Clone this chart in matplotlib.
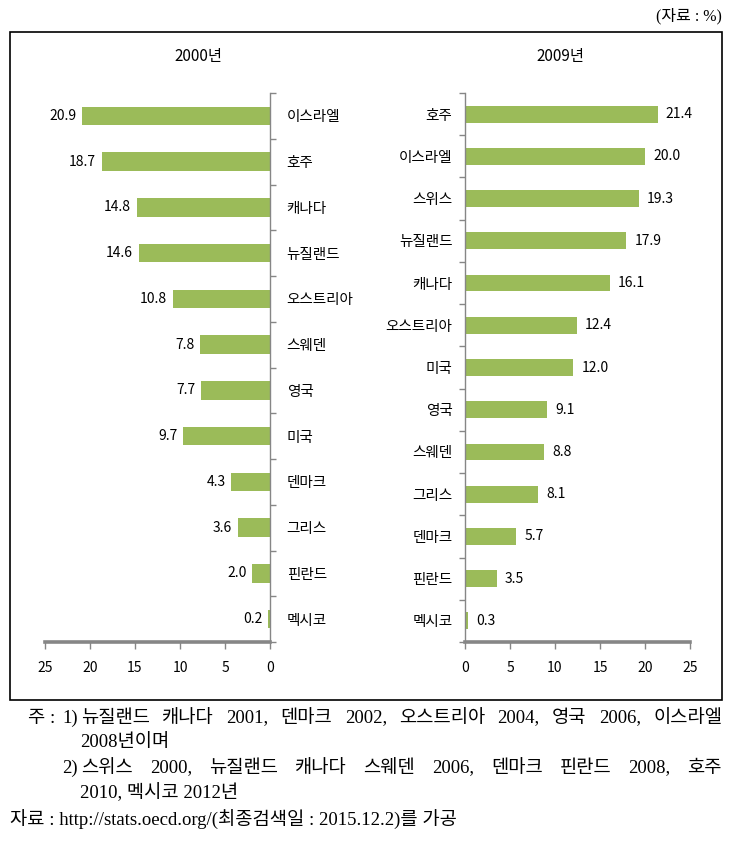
import numpy as np
import matplotlib.pyplot as plt
from matplotlib.patches import Rectangle
from matplotlib.ticker import FixedLocator

plt.rcParams['font.family'] = ['Noto Sans CJK KR', 'DejaVu Sans']

# 2000년 (left panel)
countries_2000 = ['이스라엘', '호주', '캐나다', '뉴질랜드', '오스트리아', '스웨덴',
                  '영국', '미국', '덴마크', '그리스', '핀란드', '멕시코']
values_2000 = [20.9, 18.7, 14.8, 14.6, 10.8, 7.8, 7.7, 9.7, 4.3, 3.6, 2.0, 0.2]

# 2009년 (right panel)
countries_2009 = ['호주', '이스라엘', '스위스', '뉴질랜드', '캐나다', '오스트리아', '미국',
                  '영국', '스웨덴', '그리스', '덴마크', '핀란드', '멕시코']
values_2009 = [21.4, 20.0, 19.3, 17.9, 16.1, 12.4, 12.0, 9.1, 8.8, 8.1, 5.7, 3.5, 0.3]

xticks = [0, 5, 10, 15, 20, 25]

# (x start, y, text, justify to right edge?)
notes = [
    (28, 718, '주 :', False),
    (62, 718, '1)', False),
    (81, 718, '뉴질랜드 캐나다 2001, 덴마크 2002, 오스트리아 2004, 영국 2006, 이스라엘', True),
    (80, 743, '2008년이며', False),
    (62, 768, '2)', False),
    (81, 768, '스위스 2000, 뉴질랜드 캐나다 스웨덴 2006, 덴마크 핀란드 2008, 호주', True),
    (80, 793, '2010, 멕시코 2012년', False),
    (10, 820, '자료 : http://stats.oecd.org/(최종검색일 : 2015.12.2)를 가공', False),
]

bar_color = '#9BBB59'
axis_gray = '#868686'
num_font = ['Liberation Sans Narrow', 'Noto Sans CJK KR', 'DejaVu Sans']
note_font = ['Liberation Serif', 'Noto Sans CJK KR']
W, H = 729, 850

fig = plt.figure(figsize=(W / 100, H / 100), dpi=100)

def fx(px):
    return px / W

def fy(py):
    return 1 - py / H

ax1 = fig.add_axes([fx(45), fy(642), fx(225), (642 - 93) / H])
ax2 = fig.add_axes([fx(465), fy(642), fx(225), (642 - 93) / H])

def style(ax, labels, side):
    n = len(labels)
    ax.set_ylim(n - 0.5, -0.5)
    ax.set_xlim(0, 25)
    for s in ax.spines.values():
        s.set_visible(False)
    ax.spines['bottom'].set_visible(True)
    ax.spines['bottom'].set_color(axis_gray)
    ax.spines['bottom'].set_linewidth(2.6)
    ax.spines[side].set_visible(True)
    ax.spines[side].set_color(axis_gray)
    ax.spines[side].set_linewidth(1.0)
    ax.set_xticks(xticks)
    ax.set_xticklabels([str(t) for t in xticks], family=num_font, fontsize=10)
    ax.tick_params(axis='x', direction='out', length=5, width=1, color=axis_gray, pad=9)
    ax.set_yticks(np.arange(n))
    ax.set_yticklabels(labels, fontsize=10.5)
    ax.yaxis.set_minor_locator(FixedLocator(np.arange(n + 1) - 0.5))
    ax.tick_params(axis='y', which='major', length=0)
    ax.tick_params(axis='y', which='minor', length=4, width=1, color=axis_gray, direction='out')
    ax.set_facecolor('none')

# left: reversed axis, labels on the right
ax1.barh(np.arange(len(values_2000)), values_2000, height=0.4, color=bar_color)
style(ax1, countries_2000, 'right')
ax1.set_xlim(25, 0)
ax1.yaxis.tick_right()
ax1.tick_params(axis='y', which='major', pad=12)
for i, v in enumerate(values_2000):
    ax1.annotate(f'{v:.1f}', (v, i), xytext=(-4, 0), textcoords='offset points',
                 ha='right', va='center', fontsize=10, family=num_font)

# right: labels on the left
ax2.barh(np.arange(len(values_2009)), values_2009, height=0.4, color=bar_color)
style(ax2, countries_2009, 'left')
ax2.yaxis.tick_left()
ax2.tick_params(axis='y', which='major', pad=9)
for i, v in enumerate(values_2009):
    ax2.annotate(f'{v:.1f}', (v, i), xytext=(6, 0), textcoords='offset points',
                 ha='left', va='center', fontsize=10, family=num_font)

fig.text(fx(198), fy(57), '2000년', ha='center', va='center', fontsize=11)
fig.text(fx(560), fy(57), '2009년', ha='center', va='center', fontsize=11)
fig.text(fx(722), fy(16), '(자료 : %)', ha='right', va='center', fontsize=11.5,
         family=note_font)

fig.patches.append(Rectangle((fx(10), fy(700)), fx(712), (700 - 32) / H,
                             transform=fig.transFigure, fill=False,
                             edgecolor='black', linewidth=1.2))

# footnotes; justified lines are spread word by word up to the right edge
renderer = fig.canvas.get_renderer()
for x, y, t, justify in notes:
    if not justify:
        fig.text(fx(x), fy(y), t, ha='left', va='center', fontsize=13.5, family=note_font)
        continue
    words = t.split(' ')
    objs = [fig.text(0, fy(y), w, ha='left', va='center', fontsize=13.5, family=note_font)
            for w in words]
    widths = [o.get_window_extent(renderer).width for o in objs]
    gap = (722 - x - sum(widths)) / (len(words) - 1)
    pos = x
    for o, w in zip(objs, widths):
        o.set_x(fx(pos))
        pos += w + gap

fig.savefig('out.png', dpi=100)
